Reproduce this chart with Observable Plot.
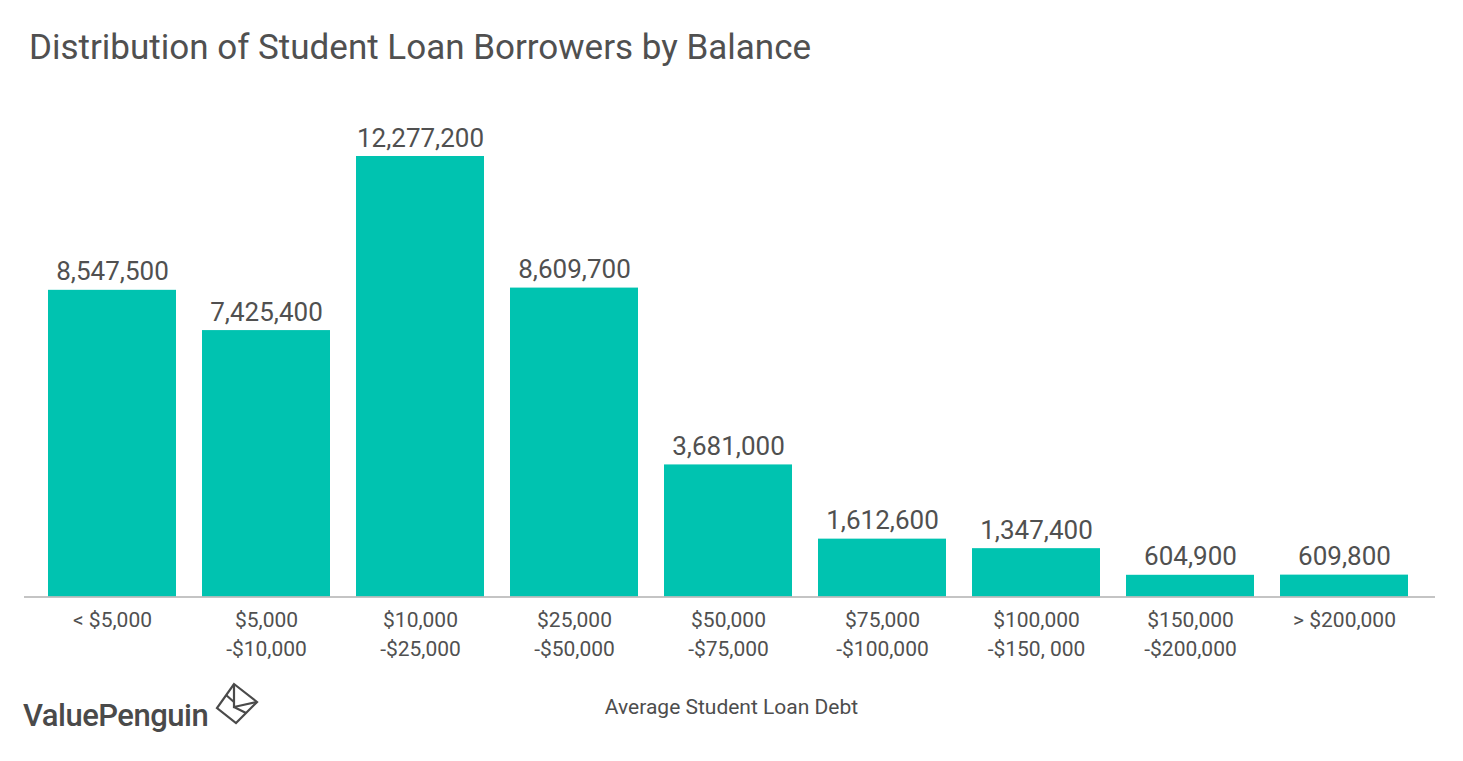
<!DOCTYPE html>
<html>
<head>
<meta charset="utf-8">
<script src="https://cdn.jsdelivr.net/npm/d3@7"></script>
<script src="https://cdn.jsdelivr.net/npm/@observablehq/plot@0.6"></script>
<style>
  html, body { margin: 0; padding: 0; background: #fff; }
  body { width: 1463px; height: 761px; position: relative; overflow: hidden; font-family: Roboto, "Noto Sans", sans-serif; color: #4d4d4d; }
  #title { position: absolute; left: 29px; top: 27px; font-size: 35px; font-weight: 400; color: #505050; white-space: nowrap; }
  #chart { position: absolute; left: 0; top: 0; }
  #xlabel { position: absolute; left: 0; width: 1463px; top: 695px; text-align: center; font-size: 21px; color: #4d4d4d; }
  #logo { position: absolute; left: 23px; top: 697px; font-size: 31px; font-weight: 500; color: #4a4a4a; letter-spacing: -0.5px; }
  #icon { position: absolute; left: 214px; top: 681px; }
</style>
</head>
<body>
<div id="chart"></div>
<div id="title">Distribution of Student Loan Borrowers by Balance</div>
<div id="xlabel">Average Student Loan Debt</div>
<div id="logo">ValuePenguin</div>
<svg id="icon" width="46" height="46" viewBox="0 0 46 46" fill="none" stroke="#4a4a4a" stroke-width="2.2" stroke-linejoin="miter">
  <path d="M20 3 L43 21 L22 42 L3 27 Z"/>
  <path d="M20 3 L20 26 L43 21"/>
  <path d="M20 26 L32 32"/>
  <path d="M12 14 L20 21"/>
</svg>
<script>
const categories = [
  "< $5,000",
  "$5,000\n-$10,000",
  "$10,000\n-$25,000",
  "$25,000\n-$50,000",
  "$50,000\n-$75,000",
  "$75,000\n-$100,000",
  "$100,000\n-$150, 000",
  "$150,000\n-$200,000",
  "> $200,000"
];
const borrowers = [8547500, 7425400, 12277200, 8609700, 3681000, 1612600, 1347400, 604900, 609800];

const data = categories.map((c, i) => ({category: c, value: borrowers[i]}));
const fmt = d3.format(",");

const chart = Plot.plot({
  width: 1463,
  height: 761,
  marginLeft: 24,
  marginRight: 28,
  marginTop: 0,
  marginBottom: 0,
  style: {fontFamily: "Roboto, 'Noto Sans', sans-serif", background: "transparent", overflow: "visible"},
  x: {domain: categories, range: [47, 1408], paddingInner: 0.17, paddingOuter: 0, axis: null},
  y: {domain: [0, 12277200], range: [596.5, 156], axis: null},
  marks: [
    Plot.barY(data, {x: "category", y: "value", fill: "#00c3b0"}),
    Plot.ruleY([0], {stroke: "#b0b0b0", strokeWidth: 1.5}),
    Plot.text(data, {x: "category", y: "value", text: d => fmt(d.value), lineAnchor: "bottom", dy: -10, fontSize: 26, fill: "#505050"}),
    Plot.text(data, {x: "category", y: () => 0, text: "category", lineAnchor: "top", dy: 9, lineHeight: 1.38, fontSize: 21, fill: "#505050"})
  ]
});
document.getElementById("chart").appendChild(chart);
</script>
</body>
</html>
